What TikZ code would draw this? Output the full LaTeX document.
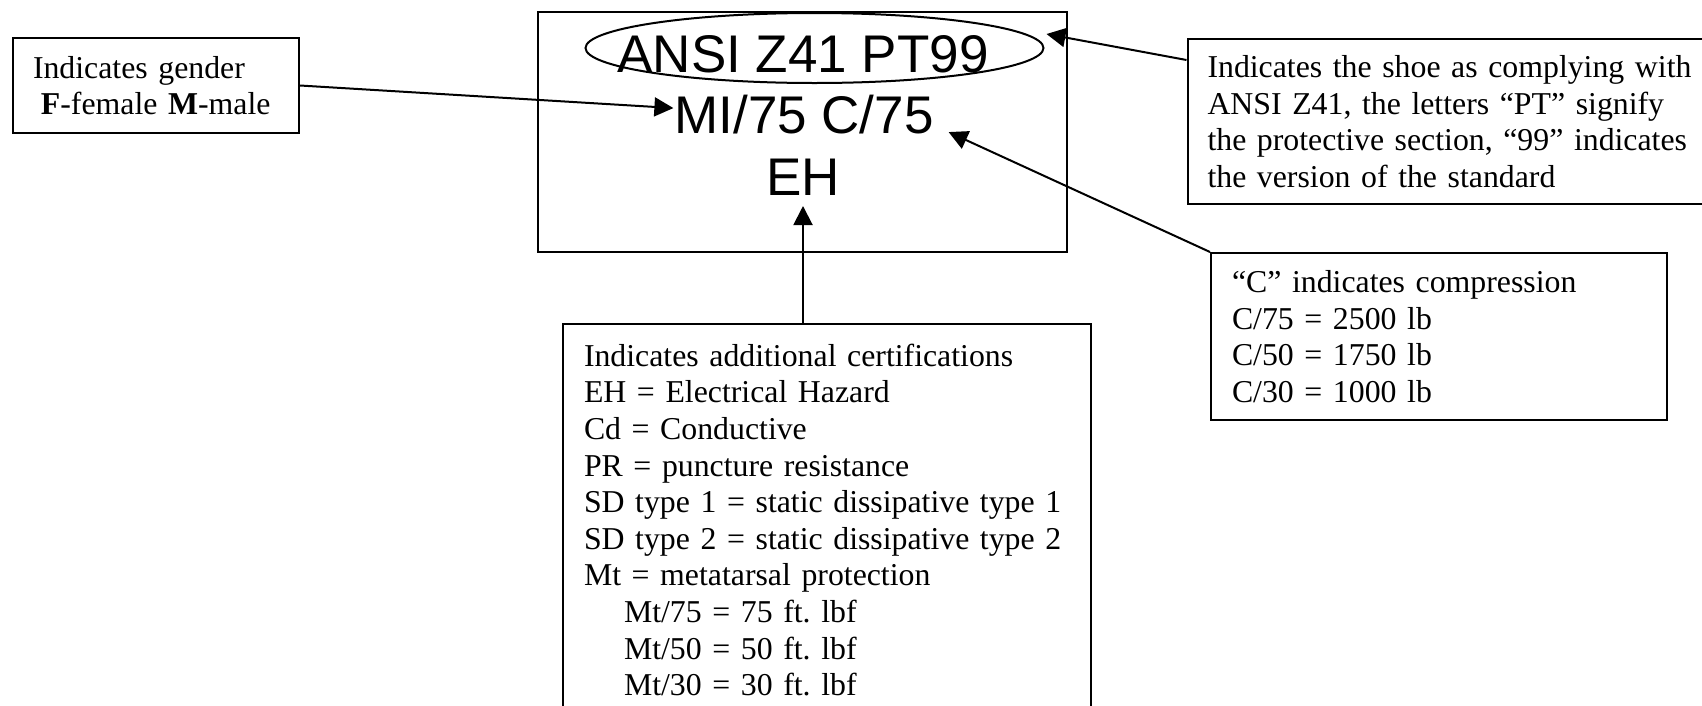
\documentclass[tikz,border=0pt]{standalone}
\usepackage{fontspec}
\setmainfont{Liberation Serif}
\newfontfamily\arialfont{Liberation Sans}
\usetikzlibrary{arrows.meta,shapes.geometric}

\begin{document}
\frenchspacing
\begin{tikzpicture}[x=1pt,y=-1pt,line width=2pt,
    box/.style={draw,anchor=north west,inner xsep=20pt,inner ysep=0pt,align=left,
      font=\fontsize{31.8}{36.6}\selectfont},
    marking/.style={anchor=base,inner sep=0pt,font=\arialfont\fontsize{53}{61}\selectfont},
    pointer/.style={-{Triangle[length=19pt,width=19pt]}}]
  \useasboundingbox (0,0) rectangle (1702,705);
  \clip (0,0) rectangle (1702,705);

  % the marking on the shoe
  \node[draw,minimum width=529,minimum height=240,inner sep=0pt] (label) at (802.5,132) {};
  \node[marking] (ansi) at (803,72) {ANSI Z41 PT99};
  \node[marking] (mi) at (804,133) {MI/75 C/75};
  \node[marking] (eh) at (803,195) {EH};
  \node[draw,ellipse,minimum width=458,minimum height=70,inner sep=0pt] (oval) at (814.5,48) {};

  % explanations
  \node[box,minimum width=286,minimum height=95,text width=246] (gender) at (12,37)
    {Indicates gender\\\hspace*{0.25em}\textbf{F}-female \textbf{M}-male};
  \node[box,minimum width=540,minimum height=165,text width=500] (shoe) at (1186.5,38)
    {Indicates the shoe as complying with\\ANSI Z41, the letters “PT” signify\\the protective section, “99” indicates\\the version of the standard};
  \node[box,minimum width=456,minimum height=167,text width=414,inner xsep=21pt] (comp) at (1210,252)
    {“C” indicates compression\\C/75 = 2500 lb\\C/50 = 1750 lb\\C/30 = 1000 lb};
  \node[box,text width=486,inner xsep=21pt,inner ysep=20pt] (certs) at (562,323)
    {Indicates additional certifications\\EH = Electrical Hazard\\Cd = Conductive\\PR = puncture resistance\\SD type 1 = static dissipative type 1\\SD type 2 = static dissipative type 2\\Mt = metatarsal protection\\
     \hspace*{40pt}Mt/75 = 75 ft. lbf\\\hspace*{40pt}Mt/50 = 50 ft. lbf\\\hspace*{40pt}Mt/30 = 30 ft. lbf};

  % pointers
  \draw[pointer] (gender.east) -- ([yshift=6pt]mi.west);
  \draw[pointer] ([yshift=-22pt]shoe.north west) -- ([shift={(2pt,14pt)}]oval.east);
  \draw[pointer] (comp.north west) -- ([shift={(14pt,-18pt)}]mi.east);
  \draw[pointer] (certs.north -| eh.south) -- ([yshift=-10pt]eh.south);
\end{tikzpicture}
\end{document}
